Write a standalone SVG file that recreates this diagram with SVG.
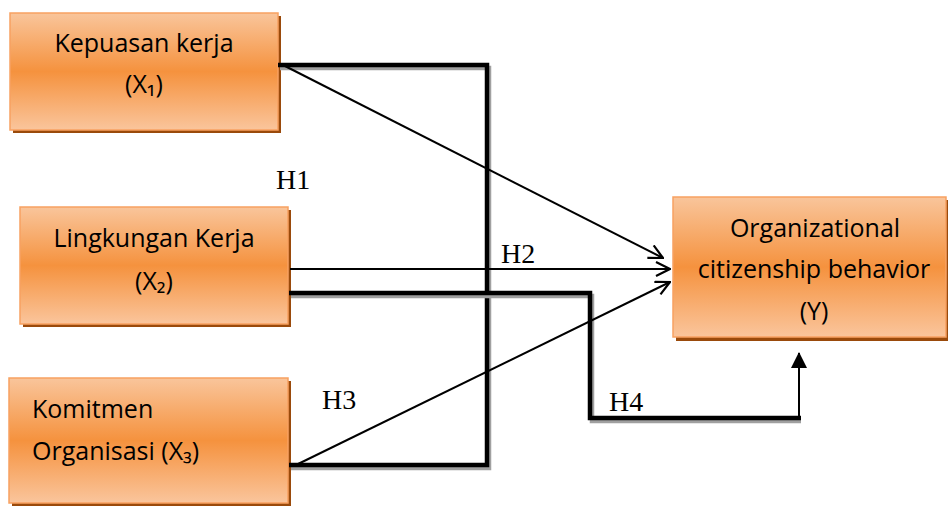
<svg xmlns="http://www.w3.org/2000/svg" width="948" height="506" viewBox="0 0 948 506">
<defs>
<linearGradient id="og" x1="0" y1="0" x2="0" y2="1">
<stop offset="0" stop-color="#F9C59B"/>
<stop offset="0.5" stop-color="#F5923E"/>
<stop offset="1" stop-color="#FAC59C"/>
</linearGradient>
<marker id="open" viewBox="0 0 16 16" refX="15" refY="8" markerWidth="16" markerHeight="16" markerUnits="userSpaceOnUse" orient="auto">
<path d="M1,1 L15,8 L1,15" fill="none" stroke="#000" stroke-width="2.2"/>
</marker>
<marker id="fill" viewBox="0 0 16 16" refX="15" refY="8" markerWidth="16" markerHeight="16" markerUnits="userSpaceOnUse" orient="auto">
<path d="M0,0 L16,8 L0,16 Z" fill="#000"/>
</marker>
</defs>
<style>
.shadow{fill:#9A4A0B}
.box{fill:url(#og);stroke:#F8A161;stroke-width:1.5}
.t{font-family:"Open Sans","Liberation Sans",sans-serif;font-size:25px;fill:#000}
.h{font-family:"Liberation Serif",serif;font-size:28px;fill:#000}
.thick{fill:none;stroke:#000;stroke-width:4.5;stroke-linejoin:miter}
.thickS{fill:none;stroke:#A0A0A0;stroke-width:4.5}
.thin{fill:none;stroke:#000;stroke-width:2}
</style>
<g id="x1">
<rect class="shadow" x="13" y="16" width="268" height="117"/>
<rect class="box" x="10" y="13" width="268" height="117"/>
<text class="t" x="144" y="52" text-anchor="middle">Kepuasan kerja</text>
<text class="t" x="144" y="93" text-anchor="middle">(X₁)</text>
</g>
<g id="x2">
<rect class="shadow" x="23" y="210" width="268" height="117"/>
<rect class="box" x="20" y="207" width="268" height="117"/>
<text class="t" x="154" y="247" text-anchor="middle">Lingkungan Kerja</text>
<text class="t" x="154" y="290" text-anchor="middle">(X₂)</text>
</g>
<g id="x3">
<rect class="shadow" x="12" y="381" width="279" height="125"/>
<rect class="box" x="9" y="378" width="279" height="125"/>
<text class="t" x="32" y="418">Komitmen</text>
<text class="t" x="32" y="460">Organisasi (X₃)</text>
</g>
<g id="y">
<rect class="shadow" x="676" y="200" width="272" height="141"/>
<rect class="box" x="673" y="197" width="273" height="140"/>
<text class="t" x="815" y="237" text-anchor="middle">Organizational</text>
<text class="t" x="814" y="278" text-anchor="middle">citizenship behavior</text>
<text class="t" x="814" y="320" text-anchor="middle">(Y)</text>
</g>
<g id="connectors">
<polyline class="thickS" points="280,68 489,68 489,468 291,468"/>
<polyline class="thick" points="278,65 487,65 487,465 289,465"/>
<polyline class="thickS" points="291,296 592,296 592,421 801,421"/>
<polyline class="thick" points="289,293 590,293 590,418 801,418"/>
<line class="thin" x1="799" y1="418" x2="799" y2="353" marker-end="url(#fill)"/>
<line class="thin" x1="283" y1="65" x2="663" y2="258" marker-end="url(#open)"/>
<line class="thin" x1="290" y1="269" x2="670" y2="269" marker-end="url(#open)"/>
<line class="thin" x1="296" y1="465" x2="670" y2="282" marker-end="url(#open)"/>
</g>
<g id="labels">
<text class="h" x="276" y="189">H1</text>
<text class="h" x="501" y="263">H2</text>
<text class="h" x="322" y="409">H3</text>
<text class="h" x="609" y="411">H4</text>
</g>
</svg>
